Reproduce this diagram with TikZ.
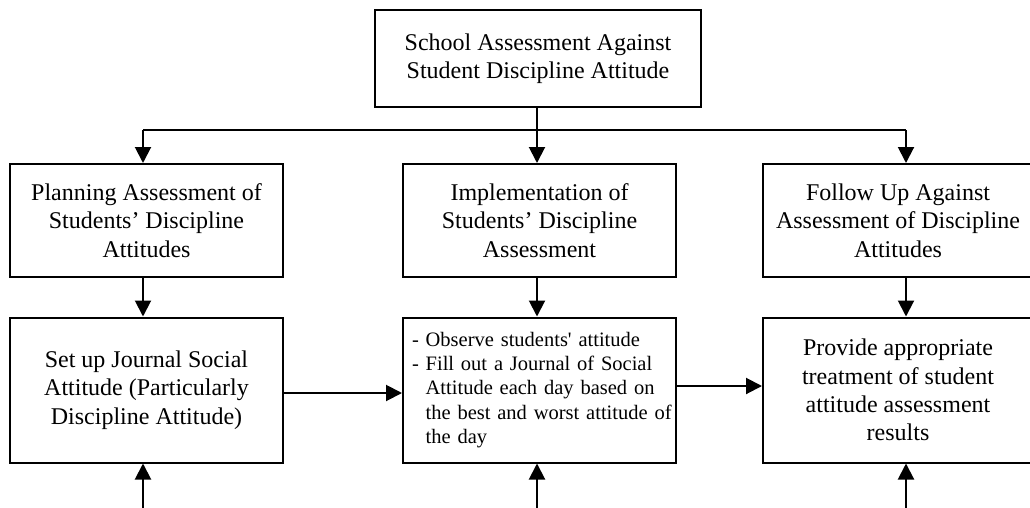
\documentclass[tikz,border=0pt]{standalone}
\usepackage{fontspec}
\setmainfont{Liberation Serif}
\usetikzlibrary{arrows.meta}

\tikzset{
  box/.style={draw, line width=2pt, align=center, inner sep=0pt,
    font=\fontsize{24}{28.3}\selectfont},
  arr/.style={line width=2pt, -{Triangle[length=16pt,width=16pt]}},
}

\begin{document}
\begin{tikzpicture}[x=1pt,y=-1pt]
	\useasboundingbox (0,0) rectangle (1030,508);
	\clip (0,0) rectangle (1030,508);

	% top
	\node[box, minimum width=326pt, minimum height=97pt] (top) at (538,58.5)
		{School Assessment Against\\Student Discipline Attitude};

	% middle row
	\node[box, minimum width=273pt, minimum height=113pt] (plan) at (146.5,220.5)
		{Planning Assessment of\\Students’ Discipline\\Attitudes};
	\node[box, minimum width=273pt, minimum height=113pt] (impl) at (539.5,220.5)
		{Implementation of\\Students’ Discipline\\Assessment};
	\node[box, minimum width=270pt, minimum height=113pt] (follow) at (898,220.5)
		{Follow Up Against\\Assessment of Discipline\\Attitudes};

	% bottom row
	\node[box, minimum width=273pt, minimum height=145pt] (setup) at (146.5,390)
		{Set up Journal Social\\Attitude (Particularly\\Discipline Attitude)};
	\node[box, minimum width=273pt, minimum height=145pt, align=left, text width=255pt,
		inner xsep=9pt, font=\fontsize{20.5}{24.3}\selectfont] (observe) at (539.5,390)
		{\begin{tabular}{@{}l@{\ }l@{}}
			- & Observe students\textquotesingle{} attitude\\
			- & Fill out a Journal of Social\\
			  & Attitude each day based on\\
			  & the best and worst attitude of\\
			  & the day
		\end{tabular}};
	\node[box, minimum width=270pt, minimum height=145pt] (treat) at (898,390)
		{Provide appropriate\\treatment of student\\attitude assessment\\results};

	% bus lines
	\coordinate (c1) at (143,130);
	\coordinate (c2) at (537,130);
	\coordinate (c3) at (906,130);
	\coordinate (b1) at (143,508.8);
	\coordinate (b3) at (906,508.8);
	\coordinate (b2) at (537,508.8);

	\draw[line width=2pt] (top.south -| c2) -- (c2);
	\draw[line width=2pt] (c1) -- (c3);
	\draw[line width=2pt] (b1) -- (1040,508.8);

	\draw[arr] (c1) -- (c1 |- plan.north);
	\draw[arr] (c2) -- (c2 |- impl.north);
	\draw[arr] (c3) -- (c3 |- follow.north);

	\draw[arr] (plan.south -| c1) -- (setup.north -| c1);
	\draw[arr] (impl.south -| c2) -- (observe.north -| c2);
	\draw[arr] (follow.south -| c3) -- (treat.north -| c3);

	\draw[arr] ([yshift=-3pt]setup.east) -- ([yshift=-3pt]setup.east -| observe.west);
	\draw[arr] ([yshift=4pt]observe.east) -- ([yshift=4pt]observe.east -| treat.west);

	\draw[arr] (b1) -- (b1 |- setup.south);
	\draw[arr] (b2) -- (b2 |- observe.south);
	\draw[arr] (b3) -- (b3 |- treat.south);
\end{tikzpicture}
\end{document}
